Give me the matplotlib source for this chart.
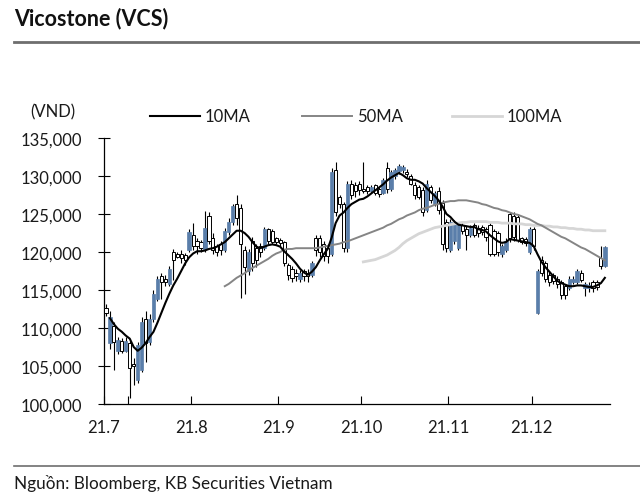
import matplotlib
matplotlib.use("Agg")
import matplotlib.pyplot as plt
from matplotlib.lines import Line2D

plt.rcParams['font.family'] = ['Lato', 'DejaVu Sans']

# daily OHLC (thousand VND), Jul - Dec 2021
opens = [112.6, 108.0, 110.3, 107.0, 108.3, 107.0, 108.0, 105.3, 103.2, 104.5,
         111.2, 108.2, 111.2, 113.8, 116.8, 116.5, 115.8, 120.0, 119.7, 119.8,
         119.6, 120.3, 122.3, 121.5, 121.3, 120.4, 124.8, 121.8, 120.8, 121.0,
         120.3, 122.6, 124.0, 126.3, 125.8, 120.3, 117.5, 121.5, 120.5, 120.8,
         120.5, 123.0, 122.8, 121.8, 121.6, 121.3, 118.3, 117.8, 117.3, 116.5,
         117.5, 117.3, 117.0, 121.8, 121.8, 121.0, 120.5, 119.8, 130.8, 127.2,
         126.3, 120.5, 129.0, 128.8, 128.9, 128.3, 128.5, 128.0, 128.8, 128.3,
         127.8, 131.0, 128.3, 130.0, 130.6, 130.8, 130.5, 130.0, 128.8, 128.5,
         128.2, 125.5, 128.5, 126.3, 128.0, 126.5, 124.0, 120.2, 121.5, 120.5,
         123.5, 123.0, 122.3, 123.5, 123.2, 123.3, 123.0, 123.5, 122.8, 122.5,
         119.8, 120.3, 125.0, 124.8, 124.6, 121.8, 121.7, 120.0, 123.0, 112.0,
         119.0, 118.5, 117.0, 117.0, 116.5, 116.0, 115.5, 115.3, 116.0, 116.0,
         117.3, 115.3, 115.2, 116.0, 116.0, 119.2, 118.2]
highs = [113.2, 112.3, 110.8, 108.8, 108.7, 108.8, 108.3, 106.0, 108.2, 111.5,
         112.2, 111.8, 115.0, 116.8, 117.2, 117.0, 118.2, 120.4, 120.0, 120.2,
         119.9, 123.0, 123.8, 121.8, 121.6, 125.4, 125.3, 122.5, 121.0, 121.4,
         123.2, 124.5, 126.3, 127.5, 126.3, 120.8, 120.4, 122.0, 121.0, 121.2,
         123.3, 123.2, 123.0, 122.0, 121.9, 121.5, 118.5, 118.2, 117.8, 117.6,
         117.8, 117.7, 118.8, 122.3, 122.2, 121.5, 121.0, 131.0, 131.8, 127.5,
         126.6, 129.3, 129.5, 129.2, 129.3, 131.8, 128.8, 128.8, 129.0, 128.6,
         129.8, 131.8, 130.8, 131.0, 131.6, 131.5, 130.9, 130.3, 129.2, 128.8,
         128.5, 129.5, 128.8, 128.0, 128.5, 126.8, 124.3, 124.3, 124.2, 123.8,
         123.8, 123.4, 123.5, 123.8, 123.5, 123.6, 123.3, 123.8, 123.0, 122.8,
         121.0, 121.8, 125.3, 125.2, 125.0, 122.0, 122.0, 123.3, 123.3, 117.8,
         119.5, 118.8, 117.5, 117.3, 116.8, 116.3, 115.8, 116.8, 116.8, 117.8,
         117.6, 116.0, 116.0, 116.3, 116.3, 120.8, 120.8]
lows = [111.6, 107.3, 104.5, 106.6, 106.7, 106.8, 100.8, 102.5, 102.8, 104.2,
        105.5, 107.8, 110.8, 113.5, 113.8, 115.5, 115.5, 116.3, 119.2, 118.5,
        118.3, 120.0, 120.2, 119.8, 120.0, 120.0, 121.0, 119.8, 119.5, 119.6,
        120.0, 122.3, 123.5, 123.5, 114.0, 114.5, 117.0, 117.5, 118.0, 119.3,
        120.2, 121.0, 121.0, 121.0, 120.8, 118.2, 116.3, 116.0, 116.2, 116.0,
        116.2, 116.0, 116.7, 119.5, 119.3, 118.8, 118.5, 119.5, 124.8, 125.8,
        120.0, 120.0, 127.0, 127.3, 127.5, 127.8, 127.6, 127.8, 127.5, 127.3,
        127.6, 127.8, 128.0, 129.6, 130.2, 130.4, 129.9, 128.8, 127.0, 127.0,
        124.8, 125.2, 126.5, 126.0, 125.0, 120.2, 120.0, 120.0, 121.0, 120.2,
        122.4, 120.2, 122.0, 122.0, 122.0, 122.2, 121.5, 119.5, 119.5, 119.5,
        119.3, 120.0, 121.3, 121.5, 121.3, 121.0, 120.8, 119.8, 120.3, 111.8,
        116.8, 116.0, 115.5, 115.8, 115.3, 113.8, 113.8, 115.0, 115.8, 115.8,
        116.0, 114.2, 114.8, 114.7, 115.0, 117.8, 118.0]
closes = [112.0, 111.5, 108.2, 108.4, 107.0, 108.3, 104.8, 105.0, 107.8, 110.8,
          108.0, 111.2, 114.5, 116.5, 116.0, 116.0, 117.8, 119.0, 119.4, 119.2,
          119.0, 122.6, 120.8, 120.8, 120.5, 123.2, 121.5, 120.3, 120.0, 120.3,
          122.8, 124.0, 126.0, 124.5, 121.0, 118.0, 120.0, 118.5, 119.0, 120.0,
          123.0, 121.5, 121.3, 121.3, 121.2, 118.6, 117.0, 116.6, 116.8, 117.3,
          116.8, 116.9, 118.5, 120.2, 120.0, 119.5, 119.5, 130.5, 125.3, 126.3,
          120.5, 129.0, 127.5, 128.0, 128.2, 128.0, 128.0, 128.6, 127.8, 127.6,
          129.5, 128.3, 130.5, 130.8, 131.3, 131.2, 130.3, 129.0, 127.5, 127.3,
          125.2, 129.0, 126.8, 127.8, 125.5, 121.0, 120.5, 124.0, 123.8, 123.5,
          122.8, 122.3, 123.2, 122.3, 122.5, 122.6, 122.0, 119.8, 119.8, 120.0,
          120.8, 121.5, 121.8, 122.0, 121.6, 121.3, 121.2, 123.0, 120.8, 117.5,
          117.3, 116.5, 116.0, 116.2, 115.8, 114.3, 114.3, 116.5, 116.5, 117.5,
          116.3, 115.8, 115.7, 115.2, 115.4, 118.2, 120.6]

# moving averages (start day, values)
ma10_start = 1
ma10 = [111.3, 110.5, 109.9, 109.5, 109.0, 108.6, 107.5, 107.0, 107.4, 108.0,
        108.8, 109.5, 110.7, 112.0, 113.3, 114.5, 115.6, 116.5, 117.5, 118.5,
        119.3, 119.8, 120.1, 120.1, 120.2, 120.4, 120.5, 120.7, 121.0, 121.3,
        121.8, 122.3, 122.8, 122.8, 122.5, 122.0, 121.3, 120.7, 120.5, 120.7,
        120.9, 121.0, 120.9, 120.7, 120.1, 119.6, 119.1, 118.5, 117.8, 117.3,
        117.0, 117.4, 118.0, 118.9, 119.7, 120.4, 121.9, 123.8, 124.8, 125.2,
        125.8, 126.3, 126.6, 126.9, 127.0, 127.3, 127.7, 128.1, 128.5, 128.9,
        129.4, 129.8, 130.1, 130.4, 130.1, 129.7, 129.5, 129.5, 129.3, 129.0,
        128.4, 127.9, 127.4, 126.8, 126.0, 125.0, 124.6, 124.0, 123.6, 123.5,
        123.4, 123.3, 123.3, 123.0, 122.9, 122.7, 122.2, 121.8, 121.4, 121.2,
        121.3, 121.7, 121.6, 121.5, 121.4, 121.3, 121.2, 120.8, 119.7, 118.7,
        118.0, 117.4, 116.8, 116.2, 115.9, 115.7, 115.5, 115.5, 115.6, 115.6,
        115.5, 115.4, 115.4, 115.6, 115.9, 116.6]
ma50_start = 30
ma50 = [115.5, 115.8, 116.2, 116.6, 116.9, 117.2, 117.6, 117.9, 118.2, 118.5,
        118.8, 119.1, 119.5, 119.8, 120.0, 120.3, 120.4, 120.4, 120.5, 120.5,
        120.5, 120.5, 120.5, 120.5, 120.6, 120.7, 120.8, 120.9, 121.0, 121.1,
        121.3, 121.4, 121.6, 121.8, 122.0, 122.2, 122.4, 122.6, 122.8, 123.0,
        123.2, 123.5, 123.7, 124.0, 124.3, 124.5, 124.8, 125.0, 125.2, 125.5,
        125.7, 125.8, 126.0, 126.2, 126.3, 126.5, 126.6, 126.7, 126.7, 126.8,
        126.8, 126.8, 126.7, 126.6, 126.5, 126.3, 126.2, 126.0, 125.8, 125.7,
        125.5, 125.4, 125.2, 125.0, 124.9, 124.7, 124.5, 124.3, 124.0, 123.7,
        123.5, 123.2, 122.9, 122.6, 122.3, 122.0, 121.8, 121.5, 121.2, 120.9,
        120.6, 120.4, 120.1, 119.8, 119.5, 119.2, 118.9]
ma100_start = 65
ma100 = [118.7, 118.8, 118.9, 119.0, 119.2, 119.4, 119.6, 119.9, 120.2, 120.6,
         121.1, 121.5, 121.8, 122.1, 122.4, 122.6, 122.8, 123.0, 123.2, 123.3,
         123.4, 123.5, 123.6, 123.7, 123.8, 123.9, 123.9, 124.0, 124.0, 124.0,
         124.0, 124.0, 123.9, 123.9, 123.9, 123.8, 123.8, 123.8, 123.7, 123.7,
         123.7, 123.6, 123.6, 123.5, 123.5, 123.5, 123.4, 123.4, 123.3, 123.3,
         123.2, 123.2, 123.1, 123.1, 123.0, 123.0, 122.9, 122.9, 122.8, 122.8,
         122.8, 122.8]

month_labels = ["21.7", "21.8", "21.9", "21.10", "21.11", "21.12"]
month_start = [0, 22, 44, 65, 87, 108]
ma_labels = ["10MA", "50MA", "100MA"]

blue = "#5a7eaa"
ma_colors = ["black", "#858585", "#d6d6d6"]
ma_widths = [1.5, 1.4, 2.0]
k = 1000

fig = plt.figure(figsize=(6.4, 5.02), dpi=100)
ax = fig.add_axes([104 / 640, 1 - 405 / 502, 506 / 640, 266 / 502])

days = list(range(len(closes)))
ax.vlines(days, [l * k for l in lows], [h * k for h in highs], color="black", lw=0.8, zorder=2)
for d in days:
    o, c = opens[d] * k, closes[d] * k
    bottom, height = min(o, c), max(abs(c - o), 120)
    if c >= o:
        ax.bar(d, height, bottom=bottom, width=0.85, color=blue, edgecolor=blue, lw=0.5, zorder=3)
    else:
        ax.bar(d, height, bottom=bottom, width=0.8, color="white", edgecolor="black", lw=0.7, zorder=3)

ax.plot(range(ma100_start, ma100_start + len(ma100)), [v * k for v in ma100], color=ma_colors[2], lw=ma_widths[2], zorder=4)
ax.plot(range(ma50_start, ma50_start + len(ma50)), [v * k for v in ma50], color=ma_colors[1], lw=ma_widths[1], zorder=4)
ax.plot(range(ma10_start, ma10_start + len(ma10)), [v * k for v in ma10], color=ma_colors[0], lw=ma_widths[0], zorder=5)

ax.set_xlim(-0.5, 127.3)
ax.set_ylim(100000, 135000)
ax.set_yticks(range(100000, 135001, 5000))
ax.set_yticklabels([f"{v:,}" for v in range(100000, 135001, 5000)], fontsize=12, color="#1a1a1a")
ax.set_xticks([m - 0.5 for m in month_start])
ax.set_xticklabels(month_labels, fontsize=12, color="#1a1a1a")
ax.set_xticks([5.5], minor=True)
ax.tick_params(axis="y", direction="inout", length=8, width=0.8, pad=12)
ax.tick_params(axis="x", which="both", direction="in", length=6, width=0.8, pad=11)
for s in ["top", "right"]:
    ax.spines[s].set_visible(False)
for s in ["left", "bottom"]:
    ax.spines[s].set_linewidth(0.9)

# legend row above the plot: short line + label
leg_x = [150, 302, 452]
for x0, lab, col, lw in zip(leg_x, ma_labels, ma_colors, ma_widths):
    fig.add_artist(Line2D([x0 / 640, (x0 + 50) / 640], [1 - 117 / 502] * 2, color=col, lw=lw))
    fig.text((x0 + 55) / 640, 1 - 117 / 502, lab, fontsize=12, color="#1a1a1a", va="center")

fig.text(30 / 640, 1 - 112 / 502, "(VND)", fontsize=12, color="#1a1a1a", va="center")
fig.text(14 / 640, 1 - 19 / 502, "Vicostone (VCS)", fontsize=15.5, fontweight="bold", color="#111111", va="center")
fig.text(14 / 640, 1 - 484 / 502, "Nguồn: Bloomberg, KB Securities Vietnam", fontsize=12.3, color="#1a1a1a", va="center")
fig.add_artist(Line2D([14 / 640, 1], [1 - 43 / 502] * 2, color="#6e6e6e", lw=2))
fig.add_artist(Line2D([14 / 640, 1], [1 - 467 / 502] * 2, color="#6e6e6e", lw=1.2))

fig.savefig("out.png", dpi=100)
